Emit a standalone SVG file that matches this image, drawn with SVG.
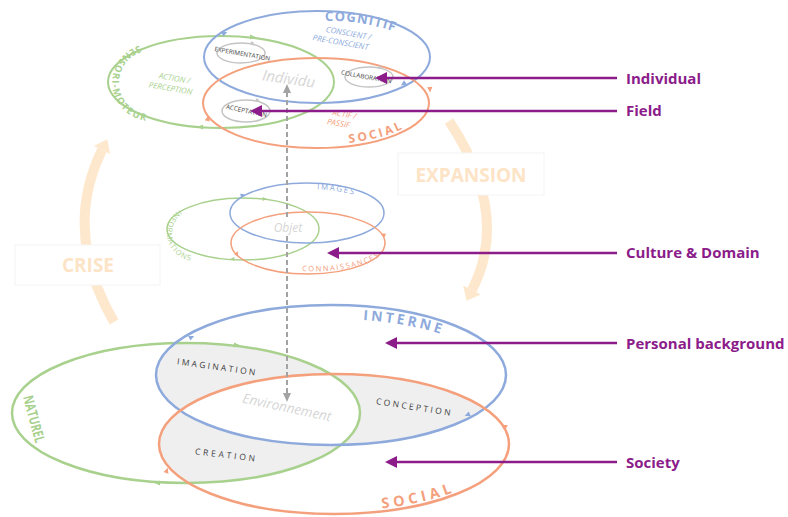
<svg xmlns="http://www.w3.org/2000/svg" width="788" height="517" viewBox="0 0 788 517">
<style>
text{font-family:'Open Sans','Liberation Sans',sans-serif}
.b{stroke:#8eaadc;fill:none}
.g{stroke:#a9d18e;fill:none}
.o{stroke:#f4a07c;fill:none}
.s{stroke:#c4c4c4;fill:none;stroke-width:1.5}
.bt{fill:#8eaadc}
.gt{fill:#a9d18e}
.ot{fill:#f4a07c}
.hv{font-weight:700}
.it{font-style:italic}
.ghost{fill:#d6d6d6;font-style:italic}
.dk{fill:#404040}
.pl{fill:#8b1c8a;font-weight:700;font-size:15px}
.pa{stroke:#8b1c8a;stroke-width:2.5}
.peach{stroke:#fee8cd;stroke-width:10;fill:none}
.pt{fill:#fde4c6;font-weight:700;font-size:19px}
.box{fill:#fff;stroke:#f4f4f4;stroke-width:1}
</style>
<defs>
<marker id="ah" viewBox="0 0 12 12" refX="2" refY="6" markerWidth="12" markerHeight="12" markerUnits="userSpaceOnUse" orient="auto"><path d="M0,0L12,6L0,12z" fill="#8b1c8a"/></marker>
<path id="chev" d="M-3,-2.6L2.5,0L-3,2.6z"/>
<clipPath id="cB"><ellipse cx="331" cy="375" rx="175" ry="70"/></clipPath>
<clipPath id="cG"><ellipse cx="186" cy="413" rx="174" ry="70"/></clipPath>
<clipPath id="cO"><ellipse cx="334" cy="444" rx="175" ry="70"/></clipPath>
<path id="pCog" d="M325,21 Q366,19 414,39"/>
<path id="pSen" d="M147,44 A37 37 0 0 0 155,121"/>
<path id="pSoc1" d="M349,143 A110 42 0 0 0 424.3,110.3"/>
<path id="pImg" d="M317,189.3 A72 24 0 0 1 372.3,202.9"/>
<path id="pInf" d="M188,206 A27 27 0 0 0 201,260"/>
<path id="pCon" d="M302,271 A74 28 0 0 0 381.7,232"/>
<path id="pInt" d="M363,320 A161 56 0 0 1 482.3,355.8"/>
<path id="pSoc2" d="M382,508.4 A172 67 0 0 0 503.4,455.6"/>
</defs>
<rect width="788" height="517" fill="#fff"/>

<g id="crise">
<path class="peach" d="M114,322 Q62,232 102,150"/>
<polygon points="107.3,139.2 110.1,154 93.9,146" fill="#fee8cd"/>
<rect class="box" x="15" y="245" width="145" height="40"/>
<text class="pt" x="88" y="272" text-anchor="middle">CRISE</text>
</g>
<g id="expansion">
<path class="peach" d="M449,121 Q511,214 472,290"/>
<polygon points="466.5,300.7 480.9,294.6 463.1,285.4" fill="#fee8cd"/>
<rect class="box" x="398" y="153" width="146" height="42"/>
<text class="pt" x="471" y="182" text-anchor="middle">EXPANSION</text>
</g>

<g id="bottom-overlaps">
<g clip-path="url(#cG)"><ellipse cx="331" cy="375" rx="175" ry="70" fill="#efefef"/></g>
<g clip-path="url(#cO)"><ellipse cx="331" cy="375" rx="175" ry="70" fill="#efefef"/></g>
<g clip-path="url(#cO)"><ellipse cx="186" cy="413" rx="174" ry="70" fill="#efefef"/></g>
<g clip-path="url(#cG)"><g clip-path="url(#cO)"><ellipse cx="331" cy="375" rx="175" ry="70" fill="#fff"/></g></g>
</g>

<g id="naturel">
<ellipse class="g" cx="186" cy="413" rx="174" ry="70" stroke-width="2.5"/>
<use href="#chev" class="gt" transform="translate(237,345) rotate(0)"/>
<use href="#chev" class="gt" transform="translate(157,483) rotate(180)"/>
<text class="gt hv" font-size="14" text-anchor="middle" transform="translate(34,419) rotate(75) translate(0,5) scale(0.75,1)">NATUREL</text>
</g>
<g id="interne">
<ellipse class="b" cx="331" cy="375" rx="175" ry="70" stroke-width="2.5"/>
<use href="#chev" class="bt" transform="translate(192,337) rotate(-25)"/>
<use href="#chev" class="bt" transform="translate(467,415) rotate(155)"/>
<text class="bt hv" font-size="14" letter-spacing="3"><textPath href="#pInt">INTERNE</textPath></text>
</g>
<g id="social-bottom">
<ellipse class="o" cx="334" cy="444" rx="175" ry="70" stroke-width="2.5"/>
<use href="#chev" class="ot" transform="translate(167,470) rotate(-70)"/>
<use href="#chev" class="ot" transform="translate(505,428) rotate(95)"/>
<text class="ot hv" font-size="14.5" letter-spacing="4"><textPath href="#pSoc2">SOCIAL</textPath></text>
</g>
<g id="bottom-labels">
<text class="dk" font-size="8.5" letter-spacing="2.3" text-anchor="middle" transform="translate(217,370) rotate(8)">IMAGINATION</text>
<text class="dk" font-size="8.5" letter-spacing="2.8" text-anchor="middle" transform="translate(226,458) rotate(7)">CREATION</text>
<text class="dk" font-size="8.5" letter-spacing="2.4" text-anchor="middle" transform="translate(414,410) rotate(9)">CONCEPTION</text>
<text class="ghost" font-size="13.5" text-anchor="middle" transform="translate(286,412) rotate(12)">Environnement</text>
</g>

<g id="informations">
<ellipse class="g" cx="243" cy="229" rx="76" ry="31" stroke-width="1.5"/>
<use href="#chev" class="gt" transform="translate(265,199) scale(0.8)"/>
<use href="#chev" class="gt" transform="translate(232,259) rotate(180) scale(0.8)"/>
<text class="gt" font-size="7.5" letter-spacing="1" text-anchor="middle"><textPath href="#pInf" startOffset="50%">INFORMATIONS</textPath></text>
</g>
<g id="images">
<ellipse class="b" cx="307" cy="213" rx="77" ry="30" stroke-width="1.5"/>
<use href="#chev" class="bt" transform="translate(243,195) rotate(-20) scale(0.8)"/>
<text class="bt" font-size="8" letter-spacing="1.5"><textPath href="#pImg">IMAGES</textPath></text>
</g>
<g id="connaissances">
<ellipse class="o" cx="308" cy="243" rx="77" ry="31" stroke-width="1.5"/>
<use href="#chev" class="ot" transform="translate(237,253) rotate(-70) scale(0.8)"/>
<use href="#chev" class="ot" transform="translate(384,236) rotate(95) scale(0.8)"/>
<text class="ot" font-size="7.5" letter-spacing="1.6"><textPath href="#pCon">CONNAISSANCES</textPath></text>
</g>

<g id="sensori-moteur">
<ellipse class="g" cx="221" cy="82" rx="113" ry="46" stroke-width="2"/>
<use href="#chev" class="gt" transform="translate(253,37)"/>
<use href="#chev" class="gt" transform="translate(200,127) rotate(180)"/>
<text class="gt hv" font-size="9.5" letter-spacing="1.5" text-anchor="middle"><textPath href="#pSen" startOffset="50%">SENSORI-MOTEUR</textPath></text>
<text class="gt it" font-size="8" text-anchor="middle" transform="translate(174,81) rotate(10)">ACTION /</text>
<text class="gt it" font-size="8" text-anchor="middle" transform="translate(170,91) rotate(10)">PERCEPTION</text>
</g>
<g id="cognitif">
<ellipse class="b" cx="317" cy="57" rx="113" ry="46" stroke-width="2"/>
<use href="#chev" class="bt" transform="translate(225,33) rotate(-25)"/>
<use href="#chev" class="bt" transform="translate(403,84) rotate(145)"/>
<text class="bt hv" font-size="13" letter-spacing="1.2"><textPath href="#pCog">COGNITIF</textPath></text>
<text class="bt it" font-size="8" text-anchor="middle" transform="translate(348,36) rotate(10)">CONSCIENT /</text>
<text class="bt it" font-size="8" text-anchor="middle" transform="translate(340,45) rotate(10)">PRE-CONSCIENT</text>
</g>
<g id="social-top">
<ellipse class="o" cx="316" cy="103" rx="113" ry="45" stroke-width="2"/>
<use href="#chev" class="ot" transform="translate(208,118) rotate(-75)"/>
<use href="#chev" class="ot" transform="translate(430,90) rotate(85)"/>
<text class="ot hv" font-size="12" letter-spacing="2.5"><textPath href="#pSoc1">SOCIAL</textPath></text>
<text class="ot it" font-size="8" text-anchor="middle" transform="translate(344,117) rotate(10)">ACTIF /</text>
<text class="ot it" font-size="8" text-anchor="middle" transform="translate(338,126) rotate(10)">PASSIF</text>
</g>
<g id="experimentation">
<ellipse class="s" cx="241" cy="53" rx="24" ry="10"/>
<use href="#chev" fill="#c4c4c4" transform="translate(253,43) scale(0.7)"/>
<text class="dk" font-size="6.3" text-anchor="middle" transform="translate(242,56) rotate(10)">EXPERIMENTATION</text>
</g>
<g id="acceptation">
<ellipse class="s" cx="246" cy="111" rx="24" ry="11"/>
<use href="#chev" fill="#c4c4c4" transform="translate(258,100) scale(0.7)"/>
<text class="dk" font-size="6.3" text-anchor="middle" transform="translate(246,113) rotate(12)">ACCEPTATION</text>
</g>
<g id="collaboration">
<ellipse class="s" cx="369" cy="77" rx="24" ry="10"/>
<use href="#chev" fill="#c4c4c4" transform="translate(381,67) scale(0.7)"/>
<text class="dk" font-size="6.3" text-anchor="middle" transform="translate(366,79) rotate(10)">COLLABORATION</text>
</g>
<g id="individu">
<text class="ghost" font-size="15" text-anchor="middle" transform="translate(288,84) rotate(8)">Individu</text>
</g>

<g id="connectors">
<line x1="287" y1="92" x2="287" y2="394" stroke="#a3a3a3" stroke-width="2" stroke-dasharray="5,3"/>
<polygon points="287,84 283,93 291,93" fill="#a3a3a3"/>
<polygon points="287,402 283,393 291,393" fill="#a3a3a3"/>
<line class="pa" x1="617" y1="78" x2="385" y2="78" marker-end="url(#ah)"/>
<line class="pa" x1="617" y1="111" x2="260" y2="111" marker-end="url(#ah)"/>
<line class="pa" x1="617" y1="253" x2="337" y2="253" marker-end="url(#ah)"/>
<line class="pa" x1="617" y1="343" x2="395" y2="343" marker-end="url(#ah)"/>
<line class="pa" x1="617" y1="462" x2="395" y2="462" marker-end="url(#ah)"/>
</g>
<g id="objet">
<rect x="270" y="219" width="36" height="16" fill="#fff"/>
<text class="ghost" font-size="12" text-anchor="middle" x="288" y="232">Objet</text>
</g>
<g id="legend">
<text class="pl" x="626" y="84">Individual</text>
<text class="pl" x="626" y="116">Field</text>
<text class="pl" x="626" y="258">Culture &amp; Domain</text>
<text class="pl" x="626" y="349">Personal background</text>
<text class="pl" x="626" y="468">Society</text>
</g>
</svg>
